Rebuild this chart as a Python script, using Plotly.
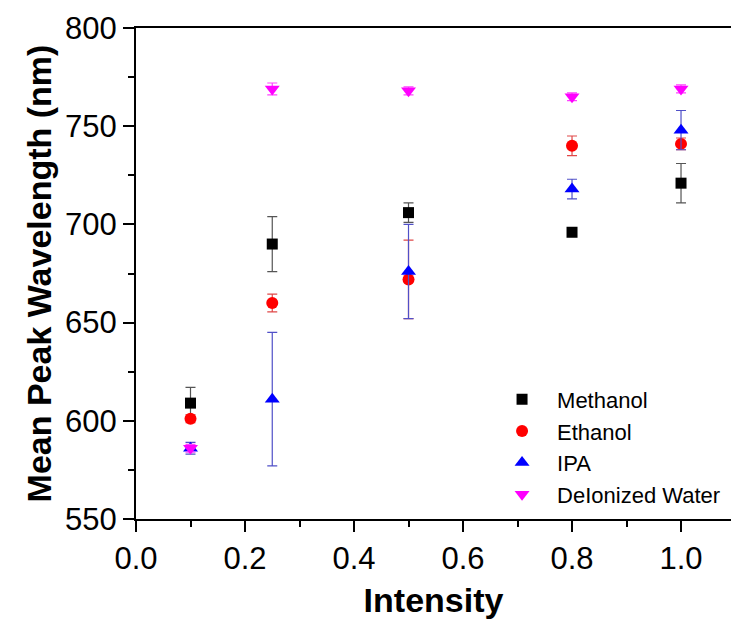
import plotly.graph_objects as go

intensity = [0.1, 0.25, 0.5, 0.8, 1.0]

methanol = [609, 690, 706, 696, 721]
methanol_err = [8, 14, 5, 2, 10]

ethanol = [601, 660, 672, 740, 741]
ethanol_err = [2, 4.5, 20, 5, 3]

ipa = [586, 611, 676, 718, 748]
ipa_err = [3, 34, 24, 5, 10]

water = [586, 769, 768, 765, 769]
water_err = [2, 3, 2, 2, 2]

series = [
    ("Methanol", methanol, methanol_err, "black", "#555555", "square", 11),
    ("Ethanol", ethanol, ethanol_err, "#ff0000", "#e04848", "circle", 12),
    ("IPA", ipa, ipa_err, "#0000ff", "#5050c8", "triangle-up", 13),
    ("DeIonized Water", water, water_err, "#ff00ff", "#ff44ff", "triangle-down", 13),
]

fig = go.Figure()
for name, vals, errs, col, ecol, sym, sz in series:
    fig.add_trace(go.Scatter(
        x=intensity, y=vals, name=name, mode="markers",
        marker=dict(symbol=sym, size=sz, color=col, line=dict(width=0)),
        error_y=dict(type="data", array=errs, visible=True, color=ecol,
                     thickness=1.2, width=5),
    ))

font_family = "Liberation Sans, Arial, sans-serif"
fig.update_layout(
    width=731, height=619,
    margin=dict(l=136, r=0, t=28, b=100, autoexpand=False),
    plot_bgcolor="white", paper_bgcolor="white",
    font=dict(family=font_family, color="black"),
    showlegend=True,
    legend=dict(x=0.59, y=0.286, xanchor="left", yanchor="top",
                font=dict(size=22, family=font_family, color="black"),
                bgcolor="rgba(0,0,0,0)", itemwidth=60, tracegroupgap=0),
    xaxis=dict(
        range=[0, 1.0917], tickvals=[0.0, 0.2, 0.4, 0.6, 0.8, 1.0],
        ticktext=["0.0", "0.2", "0.4", "0.6", "0.8", "1.0"],
        automargin=False,
        showgrid=False, zeroline=False, showline=True, linecolor="black",
        linewidth=2, mirror=True, ticks="outside", ticklen=11, tickwidth=2,
        tickcolor="black", tickfont=dict(size=31, family=font_family),
        minor=dict(ticks="outside", ticklen=6, tickwidth=2, dtick=0.1,
                   tick0=0, tickcolor="black", showgrid=False),
        title=dict(text="<b>Intensity</b>", font=dict(size=34, family=font_family),
                   standoff=14),
    ),
    yaxis=dict(
        range=[550, 800], tickvals=[550, 600, 650, 700, 750, 800],
        automargin=False,
        showgrid=False, zeroline=False, showline=True, linecolor="black",
        linewidth=2, ticks="outside", ticklen=11, tickwidth=2,
        tickcolor="black", tickfont=dict(size=31, family=font_family),
        minor=dict(ticks="outside", ticklen=6, tickwidth=2, dtick=25,
                   tick0=550, tickcolor="black", showgrid=False),
        title=dict(text="<b>Mean Peak Wavelength (nm)</b>",
                   font=dict(size=34, family=font_family), standoff=3),
    ),
)

fig.write_html(
    "out.html",
    config={"displayModeBar": False},
    post_script="document.body.style.margin='0';document.body.style.overflow='hidden';",
)
